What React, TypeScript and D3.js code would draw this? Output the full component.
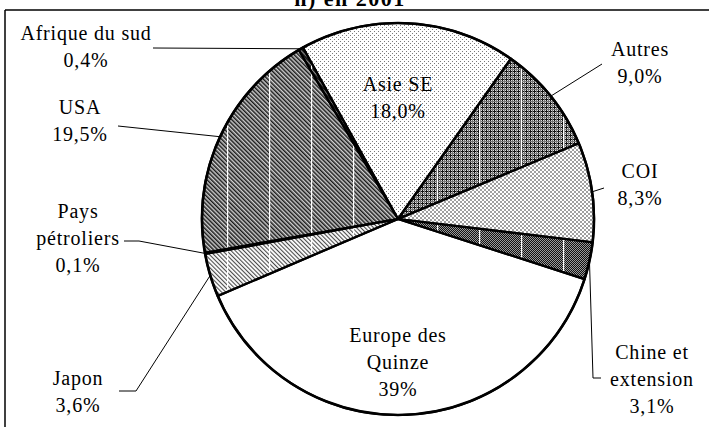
// Trade shares by partner, 2001 — patterned pie with leader-line labels.
import * as d3 from "d3";

const categories = [
  "Asie SE",
  "Autres",
  "COI",
  "Chine et extension",
  "Europe des Quinze",
  "Japon",
  "Pays pétroliers",
  "USA",
  "Afrique du sud",
];
const shares = [18.0, 9.0, 8.3, 3.1, 39, 3.6, 0.1, 19.5, 0.4];
const shareLabels = ["18,0%", "9,0%", "8,3%", "3,1%", "39%", "3,6%", "0,1%", "19,5%", "0,4%"];
const nameLines = [
  ["Asie SE"],
  ["Autres"],
  ["COI"],
  ["Chine et", "extension"],
  ["Europe des", "Quinze"],
  ["Japon"],
  ["Pays", "pétroliers"],
  ["USA"],
  ["Afrique du sud"],
];
const fills = ["dots", "grid", "checks", "darkcheck", "none", "lighthatch", "none", "hatch", "darkhatch"];
const title = "n) en 2001";

const W = 709;
const H = 427;
const cx = 398;
const cy = 219;
const R = 196;
const START = (-29 * Math.PI) / 180;
const LINE_H = 27;
const FONT = "Liberation Serif";

// label layout: text centre + leader path end (leader starts at slice edge)
const layout: Record<string, { x: number; y: number; leader?: [number, number][] }> = {
  "Asie SE": { x: 398, y: 84 },
  Autres: { x: 640, y: 49, leader: [[602, 64]] },
  COI: { x: 640, y: 171, leader: [[604, 188]] },
  "Chine et extension": { x: 652, y: 352, leader: [[593, 378], [601, 378]] },
  "Europe des Quinze": { x: 398, y: 335 },
  Japon: { x: 78, y: 378, leader: [[136, 391], [119, 391]] },
  "Pays pétroliers": { x: 78, y: 211, leader: [[139, 241], [124, 241]] },
  USA: { x: 80, y: 107, leader: [[118, 126]] },
  "Afrique du sud": { x: 86, y: 33, leader: [[153, 48]] },
};

const hatched = new Set(["grid", "darkcheck", "lighthatch", "hatch", "darkhatch"]);

export default function App() {
  const pie = d3
    .pie<number>()
    .sort(null)
    .value((d) => d)
    .startAngle(START)
    .endAngle(START + 2 * Math.PI);
  const arcs = pie(shares);
  const arc = d3.arc<d3.PieArcDatum<number>>().innerRadius(0).outerRadius(R);
  const edge = (a: d3.PieArcDatum<number>): [number, number] => {
    const m = (a.startAngle + a.endAngle) / 2;
    return [cx + R * Math.sin(m), cy - R * Math.cos(m)];
  };
  const line = d3.line();

  return (
    <svg
      width={W}
      height={H}
      viewBox={`0 0 ${W} ${H}`}
      style={{ position: "absolute", left: 0, top: 0, background: "#fff" }}
    >
      <defs>
        <pattern id="dots" width={4} height={4} patternUnits="userSpaceOnUse">
          <rect width={4} height={4} fill="#fff" />
          <rect x={0} y={0} width={1} height={1} fill="#7a7a7a" />
          <rect x={2} y={2} width={1} height={1} fill="#7a7a7a" />
        </pattern>
        <pattern id="grid" width={4} height={4} patternUnits="userSpaceOnUse">
          <rect width={4} height={4} fill="#dcdcdc" />
          <rect x={0} y={0} width={1} height={4} fill="#111" />
          <rect x={0} y={0} width={4} height={1} fill="#111" />
          <rect x={2} y={0} width={1} height={4} fill="#777" />
          <rect x={0} y={2} width={4} height={1} fill="#777" />
        </pattern>
        <pattern id="checks" width={4} height={4} patternUnits="userSpaceOnUse">
          <rect width={4} height={4} fill="#fff" />
          <rect x={0} y={0} width={2} height={2} fill="#a0a0a0" />
          <rect x={2} y={2} width={2} height={2} fill="#a0a0a0" />
        </pattern>
        <pattern id="darkcheck" width={2} height={2} patternUnits="userSpaceOnUse">
          <rect width={2} height={2} fill="#9a9a9a" />
          <rect x={0} y={0} width={1} height={1} fill="#111" />
          <rect x={1} y={1} width={1} height={1} fill="#111" />
        </pattern>
        <pattern id="hatch" width={3} height={3} patternUnits="userSpaceOnUse" patternTransform="rotate(-45)">
          <rect width={3} height={3} fill="#cfcfcf" />
          <rect x={0} y={0} width={1.5} height={3} fill="#1a1a1a" />
        </pattern>
        <pattern id="darkhatch" width={3} height={3} patternUnits="userSpaceOnUse" patternTransform="rotate(-45)">
          <rect width={3} height={3} fill="#888" />
          <rect x={0} y={0} width={1.8} height={3} fill="#111" />
        </pattern>
        <pattern id="lighthatch" width={3} height={3} patternUnits="userSpaceOnUse" patternTransform="rotate(-45)">
          <rect width={3} height={3} fill="#fff" />
          <rect x={0} y={0} width={1.1} height={3} fill="#4a4a4a" />
        </pattern>
        {/* white vertical banding seen in the scanned hatch fills */}
        <pattern id="bands" x={207} y={0} width={42} height={H} patternUnits="userSpaceOnUse">
          <rect x={0} y={0} width={1.2} height={H} fill="#fff" />
        </pattern>
      </defs>

      {/* frame (only top and left edges fall inside the crop) */}
      <line x1={5} y1={10} x2={W} y2={10} stroke="#000" strokeWidth={1.5} />
      <line x1={5} y1={10} x2={5} y2={H} stroke="#000" strokeWidth={1.5} />

      <text x={350} y={6} textAnchor="middle" fontWeight="bold" fontSize={22} letterSpacing={1.5} fontFamily={FONT}>
        {title}
      </text>

      <g transform={`translate(${cx},${cy})`}>
        {arcs.map((a, i) => (
          <path
            key={categories[i]}
            d={arc(a) ?? ""}
            fill={fills[i] === "none" ? "#fff" : `url(#${fills[i]})`}
          />
        ))}
      </g>

      {/* band overlay */}
      <g>
        {arcs.map((a, i) =>
          hatched.has(fills[i]) ? (
            <path
              key={`band${i}`}
              d={arc(a) ?? ""}
              transform={`translate(${cx},${cy})`}
              fill="url(#bands)"
            />
          ) : null
        )}
      </g>

      <g transform={`translate(${cx},${cy})`}>
        {arcs.map((a, i) => (
          <path
            key={`o${i}`}
            d={arc(a) ?? ""}
            fill="none"
            stroke="#000"
            strokeWidth={2.2}
            strokeLinejoin="round"
          />
        ))}
        <circle r={R} fill="none" stroke="#000" strokeWidth={2.6} />
      </g>

      {/* leaders */}
      {arcs.map((a, i) => {
        const l = layout[categories[i]];
        if (!l.leader) return null;
        const pts: [number, number][] = [edge(a), ...l.leader];
        return <path key={`l${i}`} d={line(pts) ?? ""} fill="none" stroke="#000" strokeWidth={1} />;
      })}

      {/* labels */}
      {categories.map((c, i) => {
        const l = layout[c];
        const lines = [...nameLines[i], shareLabels[i]];
        return (
          <text
            key={`t${i}`}
            textAnchor="middle"
            fontSize={20}
            letterSpacing={0.8}
            fill="#000"
            fontFamily={FONT}
          >
            {lines.map((s, j) => (
              <tspan key={j} x={l.x} y={l.y + j * LINE_H} dy="0.35em">
                {s}
              </tspan>
            ))}
          </text>
        );
      })}
    </svg>
  );
}
